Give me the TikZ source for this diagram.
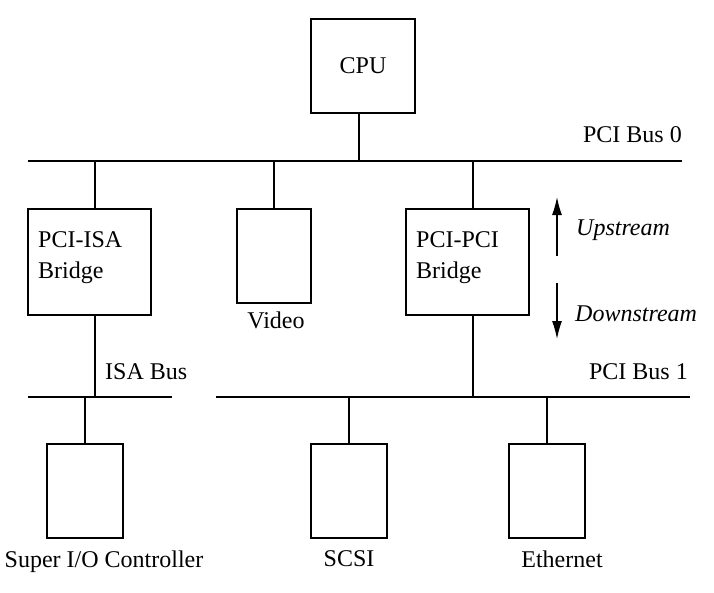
\documentclass[tikz,border=0pt]{standalone}
\usepackage{fontspec}
\setmainfont{Liberation Serif}
\usetikzlibrary{arrows.meta,
	positioning}
\tikzstyle{box}=[draw, line width=1.3pt, inner sep=0]
\tikzstyle{bus}=[line width=1.3pt]
\tikzstyle{lbl}=[font=\fontsize{24}{31}\selectfont, inner sep=0]
\tikzstyle{dir}=[line width=1.3pt, -{Latex[length=18pt, width=10pt]}]

\begin{document}
\begin{tikzpicture}[x=1pt, y=-1pt]
                \useasboundingbox (0,0) rectangle (714,592);
                % buses
                \coordinate (bus0w) at (28,161);
                \coordinate (bus0e) at (682,161);
                \coordinate (isaw) at (28,397);
                \coordinate (isae) at (172,397);
                \coordinate (bus1w) at (216,397);
                \coordinate (bus1e) at (690,397);
                \draw[bus] (bus0w) -- (bus0e);
                \draw[bus] (isaw) -- (isae);
                \draw[bus] (bus1w) -- (bus1e);
                \node[lbl, anchor=base east] (bus0lbl) at (682,142) {PCI Bus 0};
                \node[lbl, anchor=base west] (isalbl) at (105,379) {ISA Bus};
                \node[lbl, anchor=base east] (bus1lbl) at (688,379) {PCI Bus 1};
                % boxes
                \node[box, lbl, minimum width=104, minimum height=94] (cpu) at (363,66) {CPU};
                \node[box, minimum width=123, minimum height=106] (isab) at (89.5,262) {};
                \node[lbl, anchor=base west, align=left] (isabtxt) at (38,278) {PCI-ISA\\Bridge};
                \node[box, minimum width=74, minimum height=94] (video) at (274,256) {};
                \node[lbl, below=8pt of video, xshift=2pt] (videolbl) {Video};
                \node[box, minimum width=123, minimum height=106] (pcib) at (467.5,262) {};
                \node[lbl, anchor=base west, align=left] (pcibtxt) at (416,278) {PCI-PCI\\Bridge};
                \node[box, minimum width=76, minimum height=94] (sio) at (85,491) {};
                \node[lbl, below=12pt of sio, xshift=19pt] (siolbl) {Super I/O Controller};
                \node[box, minimum width=76, minimum height=94] (scsi) at (349,491) {};
                \node[lbl, below=12pt of scsi] (scsilbl) {SCSI};
                \node[box, minimum width=76, minimum height=94] (eth) at (547,491) {};
                \node[lbl, below=12pt of eth, xshift=15pt] (ethlbl) {Ethernet};
                % links to the buses
                \draw[bus] ([xshift=-4pt]cpu.south) -- ([xshift=-4pt]cpu.south |- bus0w);
                \draw[bus] ([xshift=5.5pt]isab.north) -- ([xshift=5.5pt]isab.north |- bus0w);
                \draw[bus] (video.north) -- (video.north |- bus0w);
                \draw[bus] ([xshift=5.5pt]pcib.north) -- ([xshift=5.5pt]pcib.north |- bus0w);
                \draw[bus] ([xshift=5.5pt]isab.south) -- ([xshift=5.5pt]isab.south |- isaw);
                \draw[bus] ([xshift=5.5pt]pcib.south) -- ([xshift=5.5pt]pcib.south |- bus1w);
                \draw[bus] (sio.north) -- (sio.north |- isaw);
                \draw[bus] (scsi.north) -- (scsi.north |- bus1w);
                \draw[bus] (eth.north) -- (eth.north |- bus1w);
                % direction
                \coordinate (uptail) at (557,256);
                \coordinate (uphead) at (557,197);
                \coordinate (dntail) at (557,283);
                \coordinate (dnhead) at (557,339);
                \draw[dir] (uptail) -- (uphead);
                \draw[dir] (dntail) -- (dnhead);
                \node[lbl, font=\fontsize{24}{31}\selectfont\itshape, anchor=base west] (uplbl) at (576,235) {Upstream};
                \node[lbl, font=\fontsize{24}{31}\selectfont\itshape, anchor=base west] (dnlbl) at (575,321) {Downstream};
            \end{tikzpicture}
\end{document}
